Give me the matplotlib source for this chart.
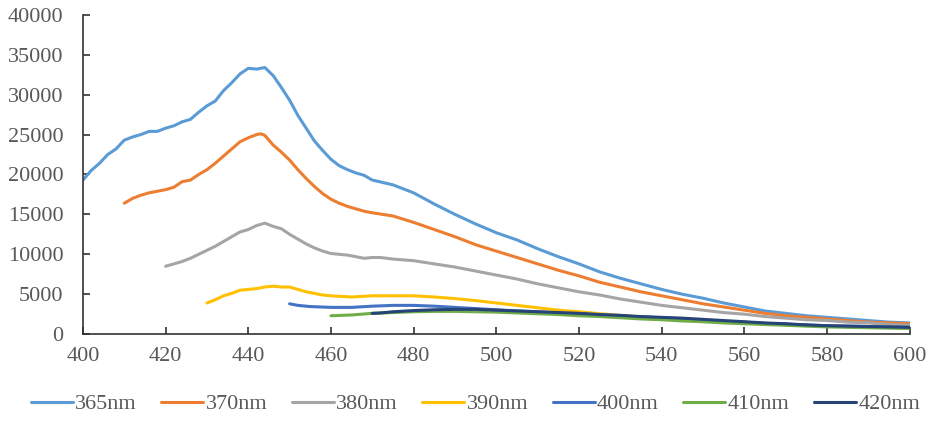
import numpy as np
import matplotlib.pyplot as plt

# emission spectra, one list of wavelengths + intensities per excitation
wl_365 = [400, 402, 404, 406, 408, 410, 412, 414, 416, 418, 420, 422, 424, 426, 428, 430,
          432, 434, 436, 438, 440, 442, 444, 446, 448, 450, 452, 454, 456, 458, 460, 462,
          464, 466, 468, 470, 475, 480, 485, 490, 495, 500, 505, 510, 515, 520, 525, 530,
          535, 540, 545, 550, 555, 560, 565, 570, 575, 580, 585, 590, 595, 600]
in_365 = [19300, 20500, 21400, 22500, 23200, 24300, 24700, 25000, 25400, 25400, 25800,
          26100, 26600, 26900, 27800, 28600, 29200, 30500, 31500, 32600, 33300, 33200,
          33400, 32400, 30900, 29300, 27400, 25800, 24200, 23000, 21900, 21100, 20600,
          20200, 19900, 19300, 18700, 17700, 16300, 15000, 13800, 12700, 11800, 10700,
          9700, 8800, 7800, 7000, 6300, 5600, 5000, 4500, 3900, 3400, 2900, 2600, 2300,
          2100, 1900, 1700, 1500, 1400]

wl_370 = [410, 412, 414, 416, 418, 420, 422, 424, 426, 428, 430, 432, 434, 436, 438, 440,
          442, 443, 444, 446, 448, 450, 452, 454, 456, 458, 460, 462, 464, 466, 468, 470,
          475, 480, 485, 490, 495, 500, 505, 510, 515, 520, 525, 530, 535, 540, 545, 550,
          555, 560, 565, 570, 575, 580, 585, 590, 595, 600]
in_370 = [16400, 17000, 17400, 17700, 17900, 18100, 18400, 19100, 19300, 20000, 20600,
          21400, 22300, 23200, 24100, 24600, 25000, 25100, 24900, 23700, 22800, 21800,
          20600, 19500, 18500, 17600, 16900, 16400, 16000, 15700, 15400, 15200, 14800,
          14000, 13100, 12200, 11200, 10400, 9600, 8800, 8000, 7300, 6500, 5900, 5300,
          4800, 4300, 3800, 3400, 3000, 2600, 2300, 2100, 1900, 1700, 1500, 1400, 1300]

wl_380 = [420, 422, 424, 426, 428, 430, 432, 434, 436, 438, 440, 442, 444, 446, 448, 450,
          452, 454, 456, 458, 460, 462, 464, 466, 468, 470, 472, 475, 480, 485, 490, 495,
          500, 505, 510, 515, 520, 525, 530, 535, 540, 545, 550, 555, 560, 565, 570, 575,
          580, 585, 590, 595, 600]
in_380 = [8500, 8800, 9100, 9500, 10000, 10500, 11000, 11600, 12200, 12800, 13100, 13600,
          13900, 13500, 13200, 12500, 11900, 11300, 10800, 10400, 10100, 10000, 9900, 9700,
          9500, 9600, 9600, 9400, 9200, 8800, 8400, 7900, 7400, 6900, 6300, 5800, 5300,
          4900, 4400, 4000, 3600, 3300, 3000, 2700, 2500, 2200, 2000, 1800, 1700, 1500,
          1400, 1200, 1100]

wl_390 = [430, 432, 434, 436, 438, 440, 442, 444, 446, 448, 450, 452, 454, 456, 458, 460,
          465, 470, 475, 480, 485, 490, 495, 500, 505, 510, 515, 520, 525, 530, 535, 540,
          545, 550, 555, 560, 565, 570, 575, 580, 585, 590, 595, 600]
in_390 = [3900, 4300, 4800, 5100, 5500, 5600, 5700, 5900, 6000, 5900, 5900, 5600, 5300,
          5100, 4900, 4800, 4650, 4800, 4800, 4800, 4650, 4450, 4200, 3900, 3600, 3300,
          3000, 2800, 2550, 2350, 2150, 2000, 1850, 1700, 1550, 1400, 1300, 1200, 1100,
          1000, 950, 900, 850, 800]

wl_400 = [450, 452, 455, 460, 465, 470, 475, 480, 485, 490, 495, 500, 505, 510, 515, 520,
          525, 530, 535, 540, 545, 550, 555, 560, 565, 570, 575, 580, 585, 590, 595, 600]
in_400 = [3800, 3600, 3450, 3350, 3350, 3500, 3600, 3600, 3500, 3350, 3200, 3050, 2900,
          2800, 2650, 2550, 2400, 2250, 2150, 2050, 1900, 1750, 1600, 1500, 1350, 1250,
          1150, 1050, 1000, 950, 900, 850]

wl_410 = [460, 465, 470, 475, 480, 485, 490, 495, 500, 505, 510, 515, 520, 525, 530, 535,
          540, 545, 550, 555, 560, 565, 570, 575, 580, 585, 590, 595, 600]
in_410 = [2300, 2400, 2600, 2700, 2800, 2850, 2850, 2800, 2750, 2650, 2550, 2450, 2300,
          2200, 2050, 1900, 1800, 1650, 1550, 1400, 1300, 1200, 1100, 1000, 900, 850, 800,
          750, 700]

wl_420 = [470, 472, 475, 480, 485, 490, 495, 500, 505, 510, 515, 520, 525, 530, 535, 540,
          545, 550, 555, 560, 565, 570, 575, 580, 585, 590, 595, 600]
in_420 = [2600, 2650, 2800, 2950, 3050, 3100, 3100, 3000, 2900, 2800, 2700, 2600, 2450,
          2350, 2200, 2100, 2000, 1850, 1700, 1550, 1400, 1300, 1150, 1050, 1000, 950, 900,
          850]

labels = ['365nm', '370nm', '380nm', '390nm', '400nm', '410nm', '420nm']
colors = ['#5B9BD5', '#ED7D31', '#A5A5A5', '#FFC000', '#4472C4', '#70AD47', '#264478']
series = [(wl_365, in_365), (wl_370, in_370), (wl_380, in_380), (wl_390, in_390),
          (wl_400, in_400), (wl_410, in_410), (wl_420, in_420)]

plt.rcParams['font.family'] = ['Liberation Serif', 'DejaVu Serif']

fig = plt.figure(figsize=(9.32, 4.24), dpi=100)
ax = fig.add_axes([0.089, 0.212, 0.887, 0.753])

for (x, y), lab, c in zip(series, labels, colors):
    ax.plot(x, y, color=c, lw=2.2, label=lab, solid_capstyle='round')

ax.set_xlim(400, 600)
ax.set_ylim(0, 40000)
ax.set_xticks(np.arange(400, 601, 20))
ax.set_yticks(np.arange(0, 40001, 5000))
for s in ['top', 'right']:
    ax.spines[s].set_visible(False)
for s in ['left', 'bottom']:
    ax.spines[s].set_color('#333333')
    ax.spines[s].set_linewidth(1.2)
ax.tick_params(axis='both', direction='in', length=5, width=1.2, color='#333333',
               labelsize=16, labelcolor='#595959')
ax.tick_params(axis='y', pad=14)
ax.tick_params(axis='x', pad=9)

fig.legend(loc='center', bbox_to_anchor=(0.51, 0.047), ncol=7, frameon=False,
           fontsize=16, handlelength=1.9, handletextpad=0.1, columnspacing=1.1,
           labelcolor='#595959')

fig.savefig('out.png', dpi=100)
